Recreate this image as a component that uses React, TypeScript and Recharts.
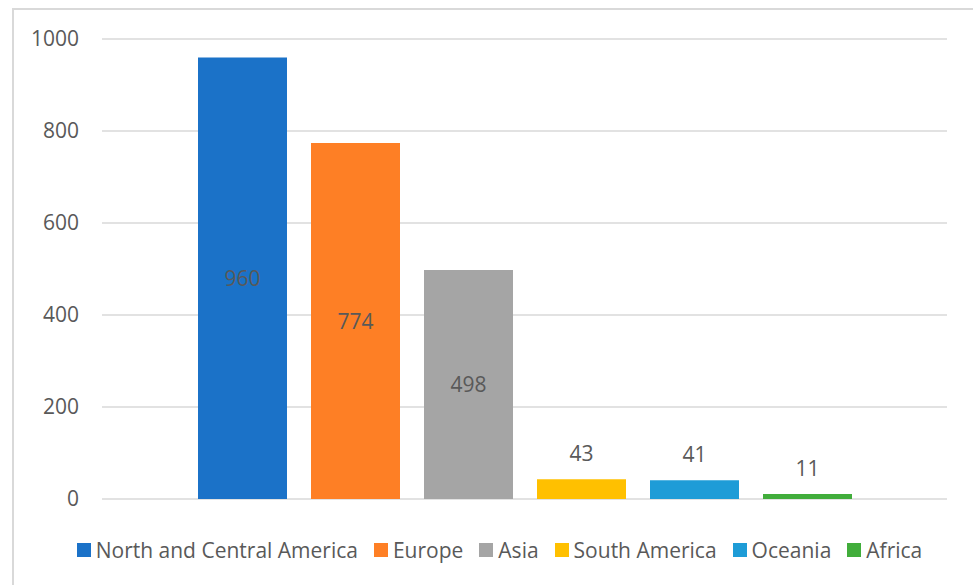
import { BarChart, Bar, XAxis, YAxis, CartesianGrid, Legend } from "recharts";

const REGIONS = [
  "North and Central America",
  "Europe",
  "Asia",
  "South America",
  "Oceania",
  "Africa",
];
const COUNTS = [960, 774, 498, 43, 41, 11];
const COLORS = ["#1B72C8", "#FE7F25", "#A5A5A5", "#FFC000", "#1E9CD7", "#41AD3B"];
const Y_TICKS = [0, 200, 400, 600, 800, 1000];

const FONT = "'Open Sans', sans-serif";
const TEXT = "#595959";

// one category, one series per region (like the Excel original)
const row: Record<string, number | string> = { name: "Regions" };
REGIONS.forEach((r, i) => {
  row[r] = COUNTS[i];
});
const data = [row];

const renderLabel = (props: any) => {
  const { x, y, width, height, value } = props;
  const inside = height > 40;
  const cy = inside ? y + height / 2 : y - 26;
  return (
    <text
      x={x + width / 2}
      y={cy}
      textAnchor="middle"
      dominantBaseline="central"
      fill={TEXT}
      fontSize={21}
      fontFamily={FONT}
    >
      {value}
    </text>
  );
};

// keep the series order (recharts would sort the payload by name)
const renderLegend = () => (
  <div
    style={{
      display: "flex",
      justifyContent: "center",
      alignItems: "center",
      fontFamily: FONT,
      fontSize: 21,
      color: TEXT,
      whiteSpace: "nowrap",
    }}
  >
    {REGIONS.map((r, i) => (
      <span
        key={`leg-${r}`}
        style={{ display: "inline-flex", alignItems: "center", marginLeft: i === 0 ? 0 : 16 }}
      >
        <span style={{ width: 14, height: 14, background: COLORS[i], marginRight: 5, display: "inline-block" }} />
        {r}
      </span>
    ))}
  </div>
);

export default function App() {
  return (
    <div style={{ position: "absolute", left: 0, top: 0, width: 973, height: 585, overflow: "hidden", background: "#fff" }}>
      <div
        style={{
          position: "absolute",
          left: 12,
          top: 8,
          width: 980,
          height: 600,
          borderTop: "2px solid #D9D9D9",
          borderLeft: "2px solid #D9D9D9",
        }}
      />
      <BarChart
        width={973}
        height={585}
        data={data}
        margin={{ top: 39, right: 26, bottom: 58, left: 0 }}
        barSize={89}
        barGap={24}
        style={{ position: "absolute", left: 0, top: 0 }}
      >
        <CartesianGrid vertical={false} stroke="#D9D9D9" strokeWidth={1.5} />
        <XAxis dataKey="name" hide />
        <YAxis
          width={102}
          domain={[0, 1000]}
          ticks={Y_TICKS}
          axisLine={false}
          tickLine={false}
          tickSize={0}
          tickMargin={23}
          tick={{ fill: TEXT, fontSize: 21, fontFamily: FONT }}
        />
        <Legend
          verticalAlign="bottom"
          content={renderLegend}
          wrapperStyle={{ left: 26, width: 947, top: 536, bottom: "auto" }}
        />
        {REGIONS.map((r, i) => (
          <Bar key={r} dataKey={r} fill={COLORS[i]} isAnimationActive={false} label={renderLabel} />
        ))}
      </BarChart>
    </div>
  );
}
